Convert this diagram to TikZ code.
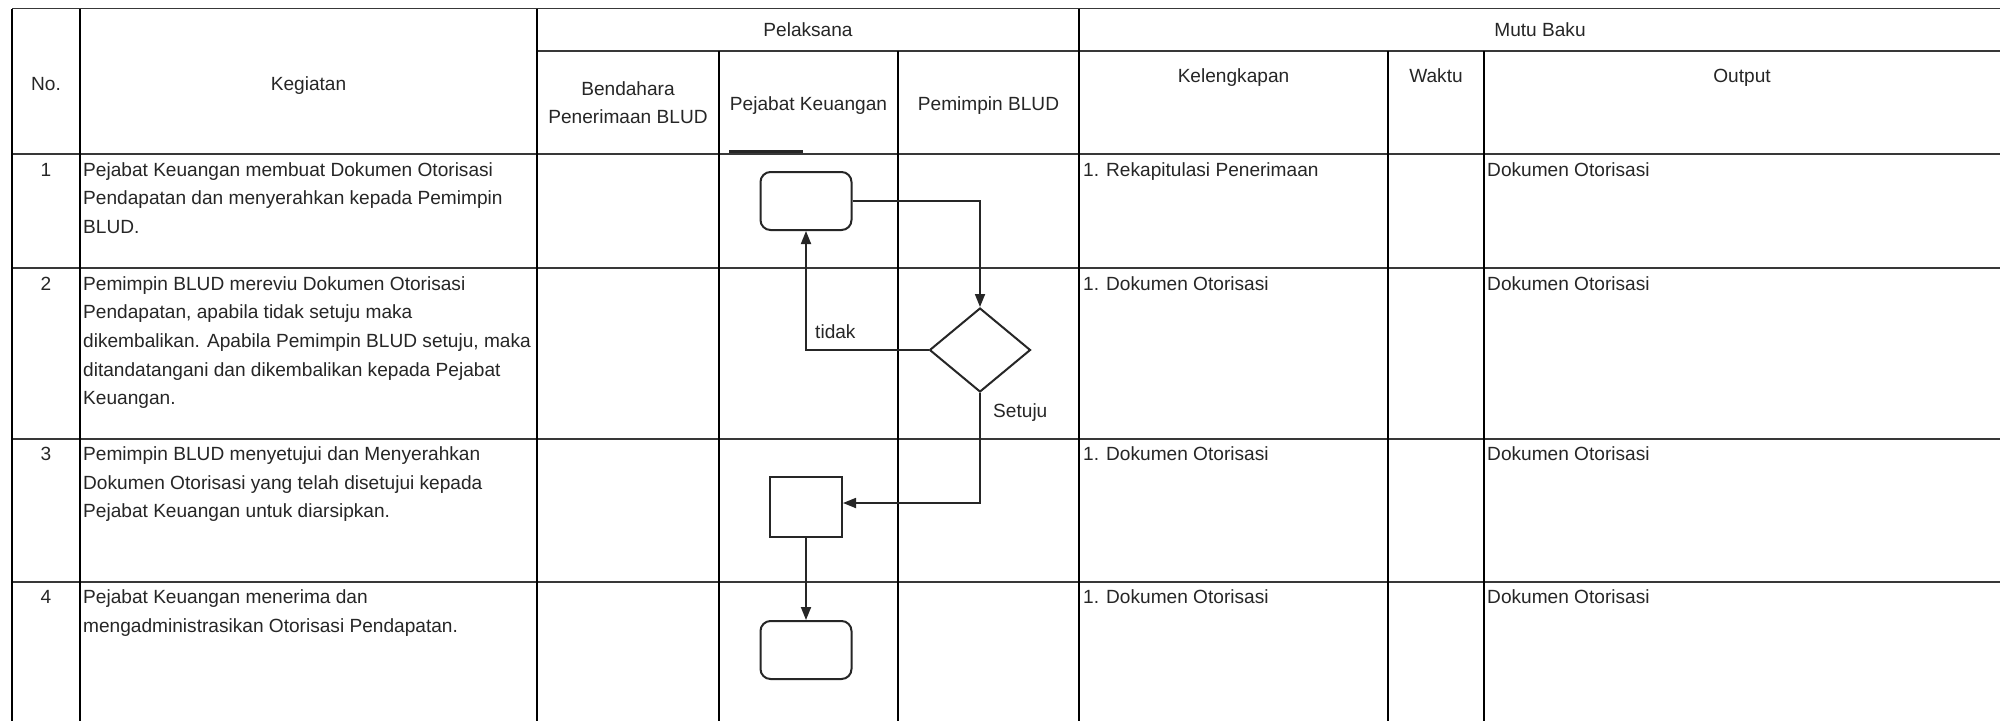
\documentclass[tikz,border=0pt]{standalone}
\usepackage{fontspec}
\setmainfont{Liberation Sans}
\usetikzlibrary{shapes.geometric,arrows.meta,calc}
\begin{document}
\begin{tikzpicture}[x=1pt,y=-1pt,
  hline/.style={line width=1.8pt,draw=black!78},
  vline/.style={line width=1.3pt,draw=black},
  txt/.style={font=\fontsize{19.1}{28.6}\selectfont,inner sep=0pt,text=black!85},
  para/.style={txt,align=left,anchor=north west},
  single/.style={txt,anchor=base},
  lefttxt/.style={txt,anchor=base west},
  term/.style={draw=black!85,line width=2pt,rounded corners=10pt,minimum width=91pt,minimum height=58pt,inner sep=0pt},
  proc/.style={draw=black!85,line width=2pt,minimum width=72pt,minimum height=60pt,inner sep=0pt},
  decision/.style={draw=black!85,line width=2pt,diamond,minimum width=101pt,minimum height=84pt,inner sep=0pt},
  flow/.style={line width=1.8pt,draw=black!85,-{Triangle[length=13pt,width=10pt]}},
]
\useasboundingbox (0,0) rectangle (2000,721);
\fill[white] (0,0) rectangle (2000,721);

% ---------- grid ----------
\draw[hline] (12,8.5) -- (2000,8.5);
\draw[hline] (537,51) -- (2000,51);
\foreach \yy in {154,268,439,582}{
  \draw[hline] (12,\yy) -- (2000,\yy);
}
\foreach \xx in {12,80,537,1079}{
  \draw[vline] (\xx,8.5) -- (\xx,721);
}
\foreach \xx in {719,898,1388,1484}{
  \draw[vline] (\xx,51) -- (\xx,721);
}
\draw[line width=3pt,black!85] (729,151.5) -- (803,151.5);

% ---------- header ----------
\node[single] (hno) at (46,90.5) {No.};
\node[single] (hkeg) at (308.5,90.5) {Kegiatan};
\node[single] (hpel) at (808,36.7) {Pelaksana};
\node[single] (hmutu) at (1540,36.7) {Mutu Baku};
\node[txt,align=center,anchor=north] (hben) at (628,75) {\strut Bendahara\\Penerimaan BLUD};
\node[single] (hpej) at (808.5,110) {Pejabat Keuangan};
\node[single] (hpem) at (988.5,110) {Pemimpin BLUD};
\node[single] (hkel) at (1233.5,82) {Kelengkapan};
\node[single] (hwak) at (1436,82) {Waktu};
\node[single] (hout) at (1742,82) {Output};

% ---------- rows ----------
\node[single] (n1) at (46,176) {1};
\node[single] (n2) at (46,290) {2};
\node[single] (n3) at (46,460.5) {3};
\node[single] (n4) at (46,603.5) {4};

\node[para] (k1) at (83,156) {\strut Pejabat Keuangan membuat Dokumen Otorisasi\\Pendapatan dan menyerahkan kepada Pemimpin\\BLUD.};
\node[para] (k2) at (83,270) {\strut Pemimpin BLUD mereviu Dokumen Otorisasi\\Pendapatan, apabila tidak setuju maka\\dikembalikan. Apabila Pemimpin BLUD setuju, maka\\ditandatangani dan dikembalikan kepada Pejabat\\Keuangan.};
\node[para] (k3) at (83,440.5) {\strut Pemimpin BLUD menyetujui dan Menyerahkan\\Dokumen Otorisasi yang telah disetujui kepada\\Pejabat Keuangan untuk diarsipkan.};
\node[para] (k4) at (83,583.5) {\strut Pejabat Keuangan menerima dan\\mengadministrasikan Otorisasi Pendapatan.};

\node[lefttxt] (kel1) at (1083,176) {1. Rekapitulasi Penerimaan};
\node[lefttxt] (kel2) at (1083,290) {1. Dokumen Otorisasi};
\node[lefttxt] (kel3) at (1083,460.5) {1. Dokumen Otorisasi};
\node[lefttxt] (kel4) at (1083,603.5) {1. Dokumen Otorisasi};

\node[lefttxt] (out1) at (1487,176) {Dokumen Otorisasi};
\node[lefttxt] (out2) at (1487,290) {Dokumen Otorisasi};
\node[lefttxt] (out3) at (1487,460.5) {Dokumen Otorisasi};
\node[lefttxt] (out4) at (1487,603.5) {Dokumen Otorisasi};

% ---------- flowchart ----------
\node[term] (r1) at (806,201) {};
\node[decision] (d) at (980,350) {};
\node[proc] (r2) at (806,507) {};
\node[term] (r3) at (806,650) {};

\draw[flow] (r1.east) -| (d.north);
\draw[flow] (d.west) -| (r1.south);
\draw[flow] (d.south) |- ([yshift=4pt]r2.east);
\draw[flow] (r2.south) -- (r3.north);

\node[lefttxt] (ltidak) at (815,338) {tidak};
\node[lefttxt] (lsetuju) at (993,417) {Setuju};
\end{tikzpicture}
\end{document}
